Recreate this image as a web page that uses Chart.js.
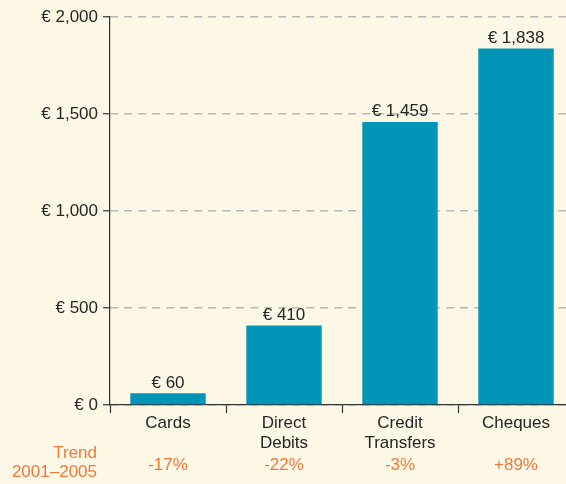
<!DOCTYPE html>
<html>
<head>
<meta charset="utf-8">
<script src="https://cdn.jsdelivr.net/npm/chart.js@4"></script>
<style>
  html, body { margin: 0; padding: 0; background: #fdf7e6; overflow: hidden; }
  #wrap { width: 574px; height: 484px; }
</style>
</head>
<body>
<div id="wrap"><canvas id="myChart" width="574" height="484"></canvas></div>
<script>
const categorias = [["Cards"], ["Direct", "Debits"], ["Credit", "Transfers"], ["Cheques"]]
const valores = [60, 410, 1459, 1838]
const tendencia = ["-17%", "-22%", "-3%", "+89%"]
const ticksY = [0, 500, 1000, 1500, 2000]

const fuente = "'Liberation Sans', Arial, sans-serif"
const naranjo = "#ec7a3c"
const texto = "#262626"
const euro = v => "€ " + v.toLocaleString("en-US")

const etiquetas = {
  id: "etiquetas",
  afterDatasetsDraw(chart) {
    const ctx = chart.ctx
    const meta = chart.getDatasetMeta(0)
    ctx.save()
    ctx.font = "17px " + fuente
    ctx.fillStyle = texto
    ctx.textAlign = "center"
    ctx.textBaseline = "bottom"
    meta.data.forEach((bar, i) => {
      ctx.fillText(euro(valores[i]), bar.x, bar.y - 2)
    })
    // fila de tendencia
    const x = chart.scales.x
    ctx.fillStyle = naranjo
    ctx.textBaseline = "middle"
    tendencia.forEach((t, i) => {
      ctx.fillText(t, x.getPixelForValue(i), 465)
    })
    ctx.textAlign = "right"
    ctx.fillText("Trend", 97, 453)
    ctx.fillText("2001–2005", 97, 472)
    ctx.restore()
  }
}

const ctx = document.getElementById("myChart").getContext("2d")
new Chart(ctx, {
  type: "bar",
  data: {
    labels: categorias,
    datasets: [{
      data: valores,
      backgroundColor: "#0094b6",
      barPercentage: 0.65,
      categoryPercentage: 1
    }]
  },
  options: {
    responsive: false,
    animation: false,
    layout: { padding: { top: 17, right: 0, left: 0, bottom: 0 } },
    plugins: { legend: { display: false }, tooltip: { enabled: false } },
    scales: {
      x: {
        grid: { offset: true, drawOnChartArea: false, tickLength: 8, tickColor: "#333", tickWidth: 1.2 },
        border: { color: "#333", width: 1.2 },
        ticks: { color: texto, font: { family: fuente, size: 17, lineHeight: 1.15 }, padding: 1 },
        afterFit: s => { s.height = 79 }
      },
      y: {
        min: 0,
        max: 2000,
        afterBuildTicks: s => { s.ticks = ticksY.map(v => ({ value: v })) },
        grid: { color: "#b8b8b8", lineWidth: 1.5, tickLength: 7, tickColor: "#333", tickWidth: 1.2, tickBorderDash: [] },
        border: { color: "#333", width: 1.2, dash: [8, 6] },
        ticks: { color: texto, font: { family: fuente, size: 17 }, padding: 5, callback: v => euro(v) },
        afterFit: s => { s.width = 110 }
      }
    }
  },
  plugins: [etiquetas]
})
</script>
</body>
</html>
